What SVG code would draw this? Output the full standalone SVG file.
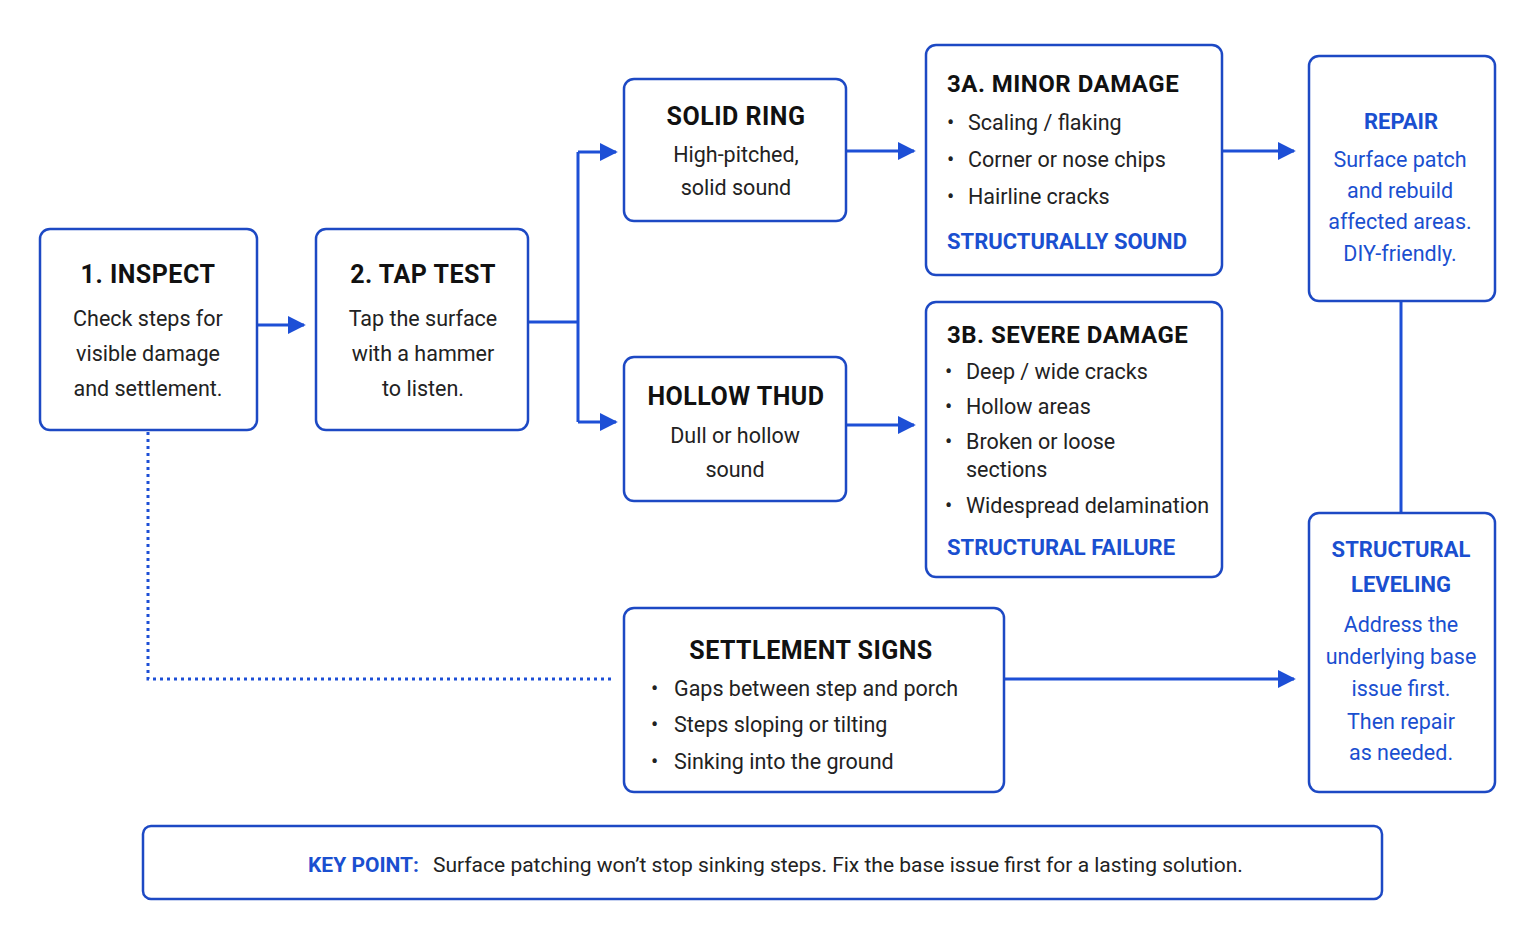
<svg xmlns="http://www.w3.org/2000/svg" width="1536" height="944" viewBox="0 0 1536 944">
<style>
.box{fill:#fff;stroke:#1d49c4;stroke-width:2.5}
text{font-family:Roboto,"Liberation Sans",sans-serif}
.t{font-size:25px;font-weight:700;fill:#111;text-anchor:middle;letter-spacing:0.5px}
.ts{font-size:24px;font-weight:700;fill:#111;letter-spacing:0.5px}
.b{font-size:21.5px;fill:#222;text-anchor:middle}
.l{font-size:21.5px;fill:#222}
.bt{font-size:22px;font-weight:700;fill:#1a4fd0}
.bb{font-size:21.5px;fill:#1a4fd0;text-anchor:middle}
.c{fill:none;stroke:#1d4fd6;stroke-width:3}
</style>
<defs>
<marker id="ah" viewBox="0 0 10 10" refX="9" refY="5" markerWidth="18" markerHeight="22" markerUnits="userSpaceOnUse" orient="auto"><path d="M0,0L10,5L0,10z" fill="#1d4fd6"/></marker></defs>
<rect width="1536" height="944" fill="#fff"/>
<g id="connectors">
<path class="c" d="M257,325H304" marker-end="url(#ah)"/>
<path class="c" d="M528,322H578M578,152V422"/>
<path class="c" d="M578,152H616" marker-end="url(#ah)"/>
<path class="c" d="M578,422H616" marker-end="url(#ah)"/>
<path class="c" d="M846,151H914" marker-end="url(#ah)"/>
<path class="c" d="M846,425H914" marker-end="url(#ah)"/>
<path class="c" d="M1222,151H1294" marker-end="url(#ah)"/>
<path class="c" d="M1401,301V513"/>
<path class="c" d="M1004,679H1294" marker-end="url(#ah)"/>
<path d="M148,432V679H613" fill="none" stroke="#1d4fd6" stroke-width="3" stroke-dasharray="3,4"/>
</g>
<g id="inspect"><rect class="box" x="40" y="229" width="217" height="201" rx="10"/>
<text class="t" x="148" y="283">1. INSPECT</text>
<text class="b" x="148" y="326">Check steps for</text><text class="b" x="148" y="361">visible damage</text><text class="b" x="148" y="396">and settlement.</text></g>
<g id="tap"><rect class="box" x="316" y="229" width="212" height="201" rx="10"/>
<text class="t" x="423" y="283">2. TAP TEST</text>
<text class="b" x="423" y="326">Tap the surface</text><text class="b" x="423" y="361">with a hammer</text><text class="b" x="423" y="396">to listen.</text></g>
<g id="solid"><rect class="box" x="624" y="79" width="222" height="142" rx="10"/>
<text class="t" x="736" y="125">SOLID RING</text>
<text class="b" x="736" y="162">High-pitched,</text><text class="b" x="736" y="195">solid sound</text></g>
<g id="hollow"><rect class="box" x="624" y="357" width="222" height="144" rx="10"/>
<text class="t" x="736" y="405">HOLLOW THUD</text>
<text class="b" x="735" y="443">Dull or hollow</text><text class="b" x="735" y="477">sound</text></g>
<g id="minor"><rect class="box" x="926" y="45" width="296" height="230" rx="10"/>
<text class="ts" x="947" y="92">3A. MINOR DAMAGE</text>
<text class="l" x="947" y="130">•</text><text class="l" x="968" y="130">Scaling / flaking</text>
<text class="l" x="947" y="167">•</text><text class="l" x="968" y="167">Corner or nose chips</text>
<text class="l" x="947" y="204">•</text><text class="l" x="968" y="204">Hairline cracks</text>
<text class="bt" x="947" y="249">STRUCTURALLY SOUND</text></g>
<g id="severe"><rect class="box" x="926" y="302" width="296" height="275" rx="10"/>
<text class="ts" x="947" y="343">3B. SEVERE DAMAGE</text>
<text class="l" x="945" y="379">•</text><text class="l" x="966" y="379">Deep / wide cracks</text>
<text class="l" x="945" y="414">•</text><text class="l" x="966" y="414">Hollow areas</text>
<text class="l" x="945" y="449">•</text><text class="l" x="966" y="449">Broken or loose</text>
<text class="l" x="966" y="477">sections</text>
<text class="l" x="945" y="513">•</text><text class="l" x="966" y="513">Widespread delamination</text>
<text class="bt" x="947" y="555">STRUCTURAL FAILURE</text></g>
<g id="repair"><rect class="box" x="1309" y="56" width="186" height="245" rx="10"/>
<text class="bt" x="1401" y="129" text-anchor="middle">REPAIR</text>
<text class="bb" x="1400" y="167">Surface patch</text><text class="bb" x="1400" y="198">and rebuild</text><text class="bb" x="1400" y="229">affected areas.</text><text class="bb" x="1400" y="261">DIY-friendly.</text></g>
<g id="leveling"><rect class="box" x="1309" y="513" width="186" height="279" rx="10"/>
<text class="bt" x="1401" y="557" text-anchor="middle" font-size="24">STRUCTURAL</text>
<text class="bt" x="1401" y="592" text-anchor="middle" font-size="24">LEVELING</text>
<text class="bb" x="1401" y="632">Address the</text><text class="bb" x="1401" y="664">underlying base</text><text class="bb" x="1401" y="696">issue first.</text><text class="bb" x="1401" y="729">Then repair</text><text class="bb" x="1401" y="760">as needed.</text></g>
<g id="settlement"><rect class="box" x="624" y="608" width="380" height="184" rx="10"/>
<text class="t" x="811" y="659">SETTLEMENT SIGNS</text>
<text class="l" x="651" y="696">•</text><text class="l" x="674" y="696">Gaps between step and porch</text>
<text class="l" x="651" y="732">•</text><text class="l" x="674" y="732">Steps sloping or tilting</text>
<text class="l" x="651" y="769">•</text><text class="l" x="674" y="769">Sinking into the ground</text></g>
<g id="keypoint"><rect class="box" x="143" y="826" width="1239" height="73" rx="8"/>
<text x="308" y="872" font-size="21"><tspan font-weight="700" fill="#1a4fd0">KEY POINT:</tspan><tspan fill="#222" dx="14">Surface patching won’t stop sinking steps. Fix the base issue first for a lasting solution.</tspan></text></g>
</svg>
